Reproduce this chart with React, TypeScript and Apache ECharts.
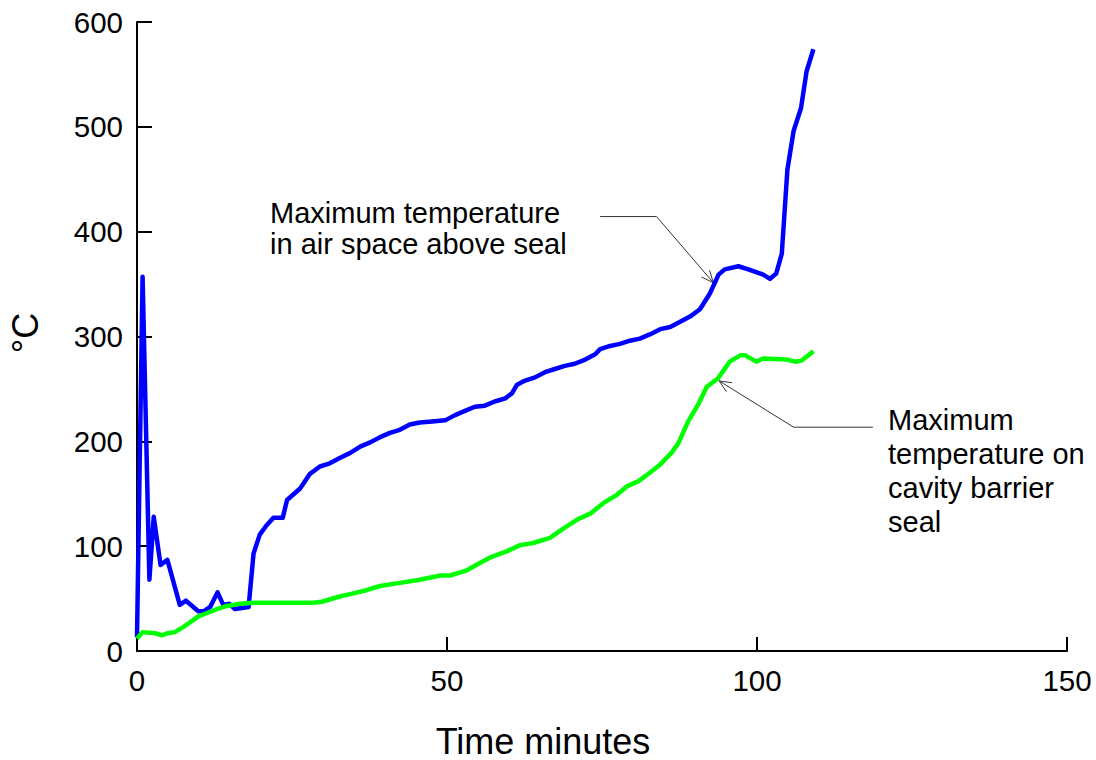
import React, { useEffect, useRef } from "react";
import * as echarts from "echarts";

// Time (minutes) and temperature (°C) — maximum temperature in air space above seal
const airTime = [0, 0.9, 2.0, 2.7, 3.8, 4.9, 6.9, 7.9, 9.9, 10.8, 11.8, 13.0, 13.9, 14.9, 15.8, 18.0, 18.8, 19.8, 20.9, 22.0, 23.5, 24.2, 26.3, 27.9, 29.5, 31.1, 32.7, 34.4, 36.0, 37.6, 39.2, 40.8, 42.4, 44.0, 45.6, 47.6, 49.7, 51.3, 52.9, 54.5, 56.1, 57.7, 59.4, 60.5, 61.3, 62.6, 64.2, 65.8, 67.4, 69.0, 70.6, 72.3, 73.9, 74.7, 76.3, 77.9, 79.5, 81.1, 82.7, 84.4, 86.0, 87.6, 89.2, 90.8, 92.4, 93.8, 94.8, 97.0, 98.6, 101.0, 102.1, 103.1, 104.0, 104.9, 105.9, 107.1, 108.0, 109.1];
const airTemp = [13, 357, 68, 128, 82, 87, 44, 48, 38, 38, 42, 56, 44, 45, 40, 42, 93, 111, 120, 127, 127, 144, 155, 169, 176, 179, 184, 189, 195, 199, 204, 208, 211, 216, 218, 219, 220, 225, 229, 233, 234, 238, 241, 246, 254, 258, 261, 266, 269, 272, 274, 278, 283, 288, 291, 293, 296, 298, 302, 307, 309, 314, 319, 326, 341, 359, 364, 367, 364, 359, 355, 360, 379, 459, 496, 518, 553, 574];

// Maximum temperature on cavity barrier seal
const sealTime = [0, 0.9, 2.9, 4.0, 5.0, 6.1, 7.5, 8.5, 9.9, 11.2, 12.9, 14.5, 16.6, 18.8, 28.4, 29.8, 32.7, 34.9, 37.0, 39.2, 42.4, 45.6, 48.9, 50.5, 51.6, 53.2, 55.3, 56.9, 59.6, 61.8, 63.9, 66.6, 68.8, 71.2, 73.1, 75.2, 77.4, 79.0, 80.9, 82.7, 84.4, 86.2, 87.3, 88.9, 90.5, 91.9, 93.7, 95.6, 97.3, 98.1, 99.9, 101.0, 104.8, 106.1, 107.2, 109.1];
const sealTemp = [12, 18, 17, 15, 17, 18, 23, 27, 33, 36, 40, 43, 45, 46, 46, 47, 52, 55, 58, 62, 65, 68, 72, 72, 74, 77, 84, 89, 95, 101, 103, 108, 117, 126, 131, 141, 149, 157, 162, 170, 178, 189, 198, 219, 235, 252, 260, 276, 282, 282, 276, 279, 278, 276, 277, 286];

const xTicks = [0, 50, 100, 150];
const yTicks = [0, 100, 200, 300, 400, 500, 600];

const airLabel = "Maximum temperature\nin air space above seal";
const sealLabel = "Maximum\ntemperature on\ncavity barrier\nseal";
// leader lines in data coordinates: [start, knee, arrow tip]
const airLeader = [[74.7, 414.4], [83.8, 414.4], [92.95, 351.4]];
const sealLeader = [[118.7, 213.5], [105.9, 213.5], [93.9, 257.6]];

const FONT = "'Liberation Sans', Arial, sans-serif";

function arrowHead(tip: number[], from: number[], len: number, ang: number) {
  const dx = from[0] - tip[0];
  const dy = from[1] - tip[1];
  const a = Math.atan2(dy, dx);
  const p1 = [tip[0] + len * Math.cos(a + ang), tip[1] + len * Math.sin(a + ang)];
  const p2 = [tip[0] + len * Math.cos(a - ang), tip[1] + len * Math.sin(a - ang)];
  return [p1, tip, p2];
}

export default function App() {
  const ref = useRef<HTMLDivElement>(null);
  useEffect(() => {
    if (!ref.current) return;
    const chart = echarts.init(ref.current, null, { renderer: "svg" });
    const axisCommon = {
      type: "value" as const,
      axisLine: { show: true, onZero: false, lineStyle: { color: "#000", width: 2 } },
      axisTick: { show: true, inside: true, lineStyle: { color: "#000", width: 2 } },
      splitLine: { show: false },
      axisLabel: { color: "#000", fontSize: 29.5, fontFamily: FONT },
    };
    chart.setOption({
      animation: false,
      backgroundColor: "#fff",
      grid: { left: 137, right: 29, top: 22, bottom: 109, containLabel: false },
      xAxis: {
        ...axisCommon,
        min: xTicks[0],
        max: xTicks[xTicks.length - 1],
        interval: xTicks[1] - xTicks[0],
        axisTick: { ...axisCommon.axisTick, length: 14 },
        axisLabel: { ...axisCommon.axisLabel, margin: 14 },
      },
      yAxis: {
        ...axisCommon,
        min: yTicks[0],
        max: yTicks[yTicks.length - 1],
        interval: yTicks[1] - yTicks[0],
        axisTick: { ...axisCommon.axisTick, length: 15 },
        axisLabel: { ...axisCommon.axisLabel, margin: 14 },
      },
      series: [
        {
          type: "line",
          name: "air",
          data: airTime.map((t, i) => [t, airTemp[i]]),
          showSymbol: false,
          symbol: "none",
          lineStyle: { color: "#0000ff", width: 4.5, join: "round" },
        },
        {
          type: "line",
          name: "seal",
          data: sealTime.map((t, i) => [t, sealTemp[i]]),
          showSymbol: false,
          symbol: "none",
          lineStyle: { color: "#00ff00", width: 4.5, join: "round" },
        },
      ],
    });

    const px = (p: number[]) => chart.convertToPixel({ gridIndex: 0 }, p) as number[];
    const aPts = airLeader.map(px);
    const sPts = sealLeader.map(px);
    const lineStyle = { stroke: "#333", lineWidth: 1, fill: null };
    chart.setOption({
      graphic: [
        { type: "polyline", shape: { points: aPts }, style: lineStyle, silent: true },
        { type: "polyline", shape: { points: arrowHead(aPts[2], aPts[1], 13, 0.42) }, style: lineStyle, silent: true },
        { type: "polyline", shape: { points: sPts }, style: lineStyle, silent: true },
        { type: "polyline", shape: { points: arrowHead(sPts[2], sPts[1], 13, 0.42) }, style: lineStyle, silent: true },
        {
          type: "text",
          x: 270,
          y: 228,
          style: { text: airLabel, fontSize: 29, fontFamily: FONT, fill: "#000", lineHeight: 31, align: "left", verticalAlign: "middle" },
        },
        {
          type: "text",
          x: 888,
          y: 471,
          style: { text: sealLabel, fontSize: 29, fontFamily: FONT, fill: "#000", lineHeight: 34, align: "left", verticalAlign: "middle" },
        },
        {
          type: "text",
          x: 543,
          y: 741,
          style: { text: "Time minutes", fontSize: 36, lineHeight: 34, fontFamily: FONT, fill: "#000", align: "center", verticalAlign: "middle" },
        },
        {
          type: "text",
          x: 25,
          y: 333,
          rotation: Math.PI / 2,
          style: { text: "°C", fontSize: 36, fontFamily: FONT, fill: "#000", align: "center", verticalAlign: "middle" },
        },
      ],
    });
    return () => chart.dispose();
  }, []);
  return <div ref={ref} style={{ position: "fixed", left: 0, top: 0, width: 1096, height: 760, background: "#fff" }} />;
}
